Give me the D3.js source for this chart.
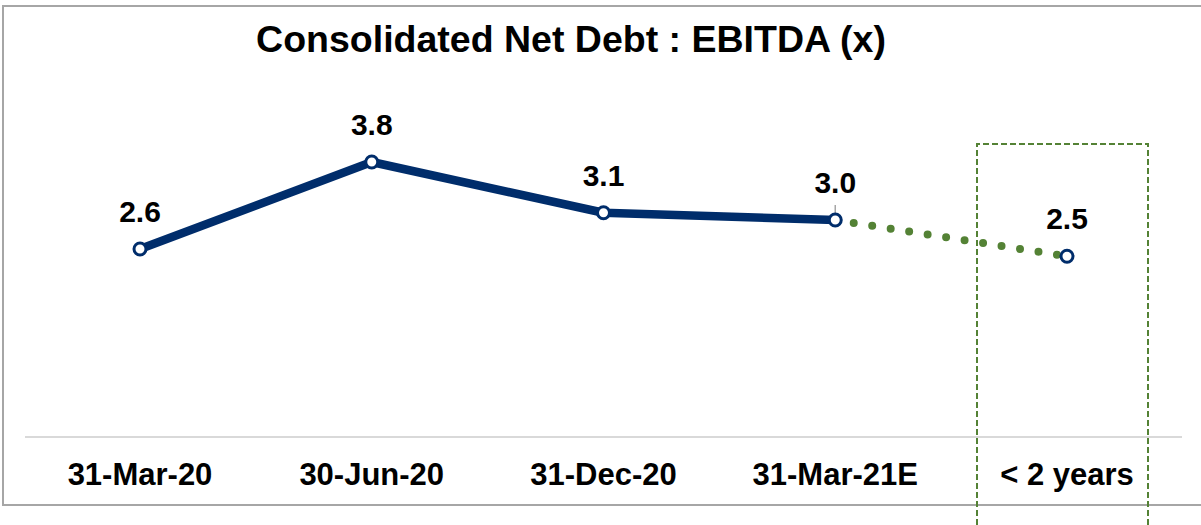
<!DOCTYPE html>
<html>
<head>
<meta charset="utf-8">
<script src="https://cdn.jsdelivr.net/npm/d3@7"></script>
<style>
  html, body { margin: 0; padding: 0; background: #fff; }
  svg { display: block; }
  text { font-family: "Liberation Sans", Arial, sans-serif; font-weight: bold; fill: #000; }
</style>
</head>
<body>
<svg id="chart" width="1201" height="525"></svg>
<script>
// Net debt to EBITDA, actuals and estimate
const categories = ["31-Mar-20", "30-Jun-20", "31-Dec-20", "31-Mar-21E", "< 2 years"];
const ratios = [2.6, 3.8, 3.1, 3.0, 2.5];
const valueLabels = ["2.6", "3.8", "3.1", "3.0", "2.5"];
const titleText = "Consolidated Net Debt : EBITDA (x)";

const navy = "#002d6b";
const green = "#548235";

const svg = d3.select("#chart");

// outer frame (open on the right edge)
svg.append("path")
  .attr("d", "M1201,6 H3 V505 H1201")
  .attr("fill", "none")
  .attr("stroke", "#a6a6a6")
  .attr("stroke-width", 2);

svg.append("text")
  .attr("x", 571)
  .attr("y", 52)
  .attr("text-anchor", "middle")
  .style("font-size", "37.5px")
  .text(titleText);

// scales
const x = d3.scalePoint().domain(categories).range([140, 1067]);
const y = d3.scaleLinear().domain([0, 5]).range([437.5, 75]);

// category axis
svg.append("line")
  .attr("x1", 25).attr("x2", 1182)
  .attr("y1", 437).attr("y2", 437)
  .attr("stroke", "#d9d9d9")
  .attr("stroke-width", 2);

svg.append("g").selectAll("text")
  .data(categories)
  .join("text")
  .attr("x", d => x(d))
  .attr("y", 485)
  .attr("text-anchor", "middle")
  .style("font-size", "31px")
  .text(d => d);

const pts = categories.map((c, i) => ({ c, v: ratios[i], label: valueLabels[i] }));
const line = d3.line().x(d => x(d.c)).y(d => y(d.v));

// highlight box around the target period
const bx0 = x(categories[4]) - 90, bx1 = x(categories[4]) + 81;
svg.append("path")
  .attr("d", `M${bx0},525 V144 H${bx1} V525`)
  .attr("fill", "none")
  .attr("stroke", green)
  .attr("stroke-width", 2)
  .attr("stroke-dasharray", "6 3");

// actuals: solid navy line
svg.append("path")
  .datum(pts.slice(0, 4))
  .attr("d", line)
  .attr("fill", "none")
  .attr("stroke", navy)
  .attr("stroke-width", 8.5)
  .attr("stroke-linejoin", "round");

// target: dotted green line
svg.append("path")
  .datum(pts.slice(3))
  .attr("d", line)
  .attr("fill", "none")
  .attr("stroke", green)
  .attr("stroke-width", 8)
  .attr("stroke-linecap", "round")
  .attr("stroke-dasharray", "0 18.7")
  .attr("stroke-dashoffset", -18.7);

// leader tick on the estimate label
svg.append("line")
  .attr("x1", x(categories[3])).attr("x2", x(categories[3]))
  .attr("y1", y(ratios[3]) - 15).attr("y2", y(ratios[3]))
  .attr("stroke", "#a6a6a6")
  .attr("stroke-width", 1.5);

svg.append("g").selectAll("circle")
  .data(pts)
  .join("circle")
  .attr("cx", d => x(d.c))
  .attr("cy", d => y(d.v))
  .attr("r", 6)
  .attr("fill", "#fff")
  .attr("stroke", navy)
  .attr("stroke-width", 3);

svg.append("g").selectAll("text")
  .data(pts)
  .join("text")
  .attr("x", d => x(d.c))
  .attr("y", d => y(d.v) - 27)
  .attr("text-anchor", "middle")
  .style("font-size", "30px")
  .text(d => d.label);
</script>
</body>
</html>
